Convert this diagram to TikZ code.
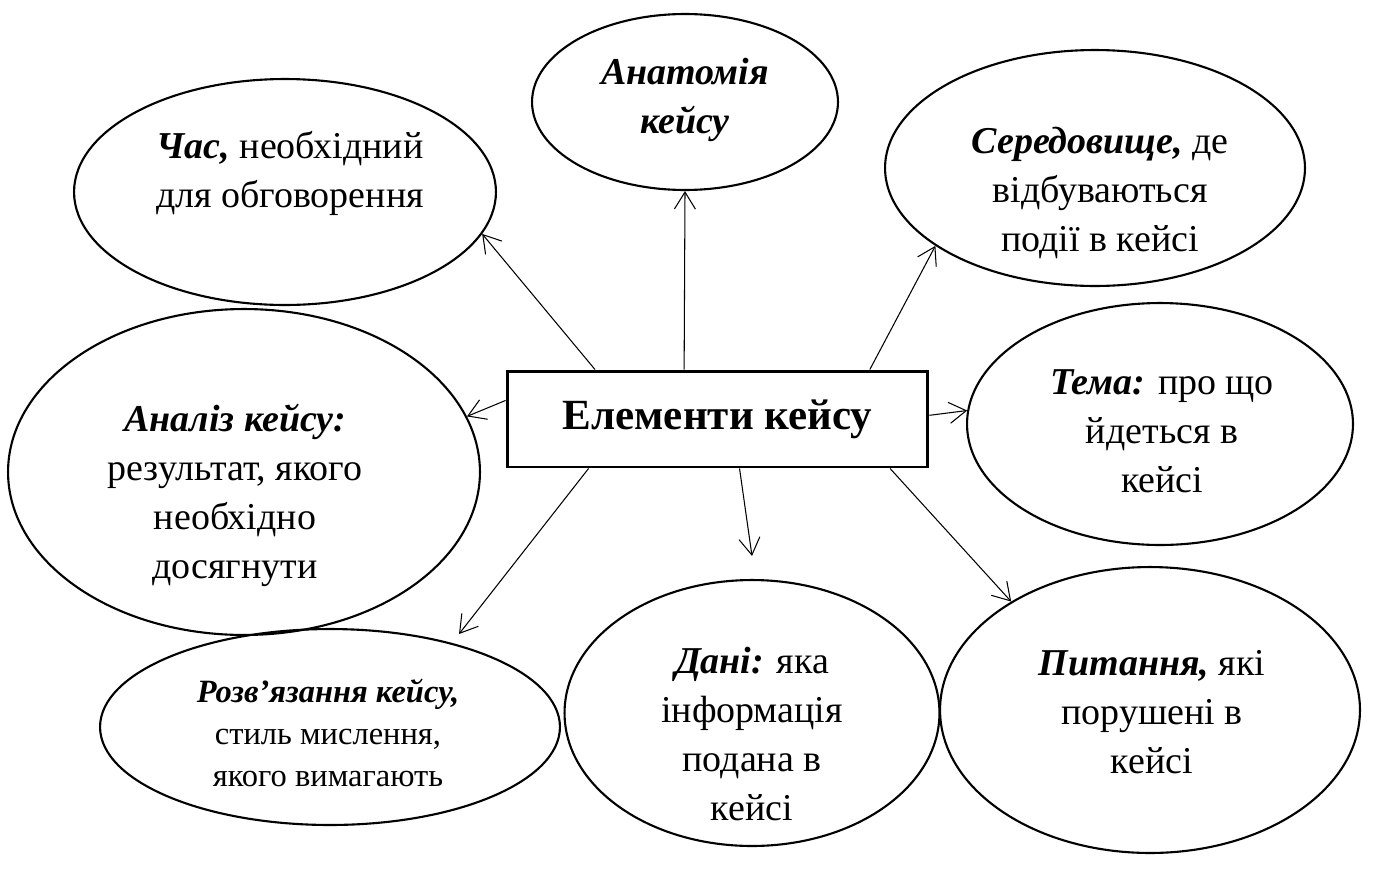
\documentclass[tikz,border=0pt]{standalone}
\usepackage{fontspec}
\setmainfont{Liberation Serif}
\usetikzlibrary{arrows.meta,shapes.geometric}
\newcommand{\bi}[1]{\textbf{\textit{#1}}}

\begin{document}
\begin{tikzpicture}[
  x=0.02cm, y=-0.02cm,
  oval/.style={draw, ellipse, line width=1.2pt, inner sep=0pt},
  txt/.style={align=center, inner sep=0pt,
    font=\fontsize{21.6}{27.9}\selectfont},
  smalltxt/.style={align=center, inner sep=0pt,
    font=\fontsize{18.5}{23.9}\selectfont},
  hub/.style={draw, line width=1.7pt, minimum width=8.42cm,
    minimum height=1.92cm, inner sep=0pt,
    font=\bfseries\fontsize{24.5}{29}\selectfont},
  ray/.style={-{Straight Barb[length=3.4mm, width=4.2mm]}, line width=0.6pt},
]
\useasboundingbox (0,0) rectangle (1375,869);

% ---- centre -------------------------------------------------------------
\node[hub] (hub) at (717.5,419) {Елементи кейсу};

% ---- ellipses -----------------------------------------------------------
\node[oval, minimum width=8.44cm, minimum height=4.52cm] (time)  at (285,192)  {};
\node[oval, minimum width=6.12cm, minimum height=3.52cm] (anat)  at (685,102)  {};
\node[oval, minimum width=8.4cm,  minimum height=4.72cm] (env)   at (1095,168) {};
\node[oval, minimum width=7.72cm, minimum height=4.84cm] (topic) at (1160,424) {};
\node[oval, minimum width=9.44cm, minimum height=6.52cm] (anal)  at (244,472)  {};
\node[oval, minimum width=9.2cm,  minimum height=3.92cm] (solve) at (330,727)  {};
\node[oval, minimum width=7.5cm,  minimum height=5.32cm] (data)  at (752,713)  {};
\node[oval, minimum width=8.4cm,  minimum height=5.72cm] (quest) at (1150,710) {};

% ---- texts --------------------------------------------------------------
\node[txt] (timeT)  at (290,173)  {\bi{Час,} необхідний\\для обговорення};
\node[txt] (anatT)  at (685,100)  {\bi{Анатомія}\\\bi{кейсу}};
\node[txt] (envT)   at (1100,193) {\bi{Середовище,} де\\відбуваються\\події в кейсі};
\node[txt] (topicT) at (1162,431) {\bi{Тема:} про що\\йдеться в\\кейсі};
\node[txt] (analT)  at (235,495)  {\bi{Аналіз кейсу:}\\результат, якого\\необхідно\\досягнути};
\node[smalltxt] (solveT) at (328,733) {\bi{Розв’язання кейсу,}\\стиль мислення,\\якого вимагають};
\node[txt] (dataT)  at (752,734)  {\bi{Дані:} яка\\інформація\\подана в\\кейсі};
\node[txt] (questT) at (1152,712) {\bi{Питання,} які\\порушені в\\кейсі};

% ---- free arrow ends ----------------------------------------------------
\coordinate (solveTip) at (459,634);
\coordinate (dataTip)  at (752,556);

% ---- arrows -------------------------------------------------------------
\draw[ray] (hub.158.6) -- (time.-12.8);
\draw[ray] (hub.124.1) -- (anat.south);
\draw[ray] (hub.18.7)  -- (env.-154.6);
\draw[ray] (hub.1.6)   -- (topic.176.7);
\draw[ray] (hub.175.6) -- (anal.14.8);
\draw[ray] (hub.-159)  -- (solveTip);
\draw[ray] (hub.-66.9) -- (dataTip);
\draw[ray] (hub.-16)   -- (quest.142);

\end{tikzpicture}
\end{document}
